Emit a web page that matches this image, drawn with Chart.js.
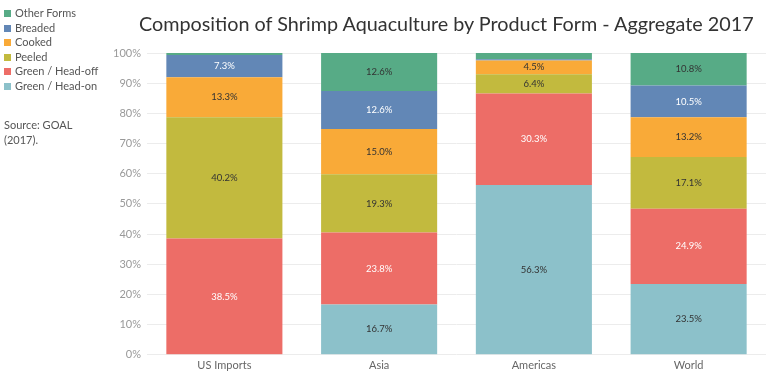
<!DOCTYPE html>
<html>
<head>
<meta charset="utf-8">
<script src="https://cdn.jsdelivr.net/npm/chart.js@4/dist/chart.umd.min.js"></script>
<style>
  html, body { margin: 0; padding: 0; background: #fff; }
  #wrap { position: relative; width: 768px; height: 382px; }
  #title { position: absolute; left: 139px; width: 606px; top: 11px; text-align: center; font-family: Lato, "Open Sans", sans-serif; font-size: 19.8px; color: #333; white-space: nowrap; }
  #legend { position: absolute; left: 4px; top: 6px; font-family: Lato, "Open Sans", sans-serif; font-size: 11px; color: #555; }
  .li { height: 14.5px; line-height: 14.5px; white-space: nowrap; }
  .sw { display: inline-block; width: 7px; height: 7px; margin-right: 4px; vertical-align: 0px; }
  #source { position: absolute; left: 4px; top: 118px; font-family: Lato, "Open Sans", sans-serif; font-size: 11px; color: #555; line-height: 14.5px; }
</style>
</head>
<body>
<div id="wrap">
  <canvas id="c" width="768" height="382"></canvas>
  <div id="title"></div>
  <div id="legend"></div>
  <div id="source">Source: GOAL<br>(2017).</div>
</div>
<script>
const categories = ["US Imports", "Asia", "Americas", "World"];
const seriesNames = ["Green / Head-on", "Green / Head-off", "Peeled", "Cooked", "Breaded", "Other Forms"];
const headOn   = [0,    16.7, 56.3, 23.5];
const headOff  = [38.5, 23.8, 30.3, 24.9];
const peeled   = [40.2, 19.3, 6.4,  17.1];
const cooked   = [13.3, 15.0, 4.5,  13.2];
const breaded  = [7.3,  12.6, 0.4,  10.5];
const other    = [0.7,  12.6, 2.1,  10.8];
const yTicks = [0, 10, 20, 30, 40, 50, 60, 70, 80, 90, 100];
const title = "Composition of Shrimp Aquaculture by Product Form - Aggregate 2017";

const seriesData = [headOn, headOff, peeled, cooked, breaded, other];
const colors = ["#8cc1ca", "#ed6d67", "#c2ba3e", "#f9aa38", "#6287b6", "#57ab86"];
const labelColors = ["#333", "#fff", "#333", "#333", "#fff", "#333"];

document.getElementById("title").textContent = title;

// legend (top-down order: reversed)
const legendEl = document.getElementById("legend");
for (let i = seriesNames.length - 1; i >= 0; i--) {
  const d = document.createElement("div");
  d.className = "li";
  d.innerHTML = '<span class="sw" style="background:' + colors[i] + '"></span>' + seriesNames[i];
  legendEl.appendChild(d);
}

const labelPlugin = {
  id: "segLabels",
  afterDatasetsDraw(chart) {
    const ctx = chart.ctx;
    ctx.save();
    ctx.font = "9.5px Lato, 'Open Sans', sans-serif";
    ctx.textAlign = "center";
    ctx.textBaseline = "middle";
    chart.data.datasets.forEach((ds, di) => {
      const meta = chart.getDatasetMeta(di);
      meta.data.forEach((bar, i) => {
        const v = ds.data[i];
        if (v < 3) return;
        const y = (bar.y + bar.base) / 2;
        ctx.fillStyle = labelColors[di];
        ctx.fillText(v.toFixed(1) + "%", bar.x, y);
      });
    });
    ctx.restore();
  }
};

new Chart(document.getElementById("c"), {
  type: "bar",
  data: {
    labels: categories,
    datasets: seriesNames.map((n, i) => ({
      label: n,
      data: seriesData[i],
      backgroundColor: colors[i],
      borderWidth: 0,
      categoryPercentage: 1.0,
      barPercentage: 0.75
    }))
  },
  options: {
    responsive: false,
    animation: false,
    layout: { padding: { left: 105, right: 2, top: 53, bottom: 6 } },
    plugins: {
      legend: { display: false },
      tooltip: { enabled: false },
      title: { display: false }
    },
    scales: {
      x: {
        stacked: true,
        grid: { display: false, drawTicks: false },
        border: { display: false },
        ticks: { color: "#666", font: { family: "Lato, 'Open Sans', sans-serif", size: 11 }, padding: 4 }
      },
      y: {
        stacked: true,
        min: 0, max: 100,
        afterBuildTicks(axis) { axis.ticks = yTicks.map(v => ({ value: v })); },
        afterFit(axis) { axis.width = 42; },
        grid: { color: "#ececec", drawTicks: false },
        border: { display: false },
        ticks: {
          color: "#999",
          font: { family: "Lato, 'Open Sans', sans-serif", size: 11 },
          padding: 6,
          callback: v => v + "%"
        }
      }
    }
  },
  plugins: [labelPlugin]
});
</script>
</body>
</html>
